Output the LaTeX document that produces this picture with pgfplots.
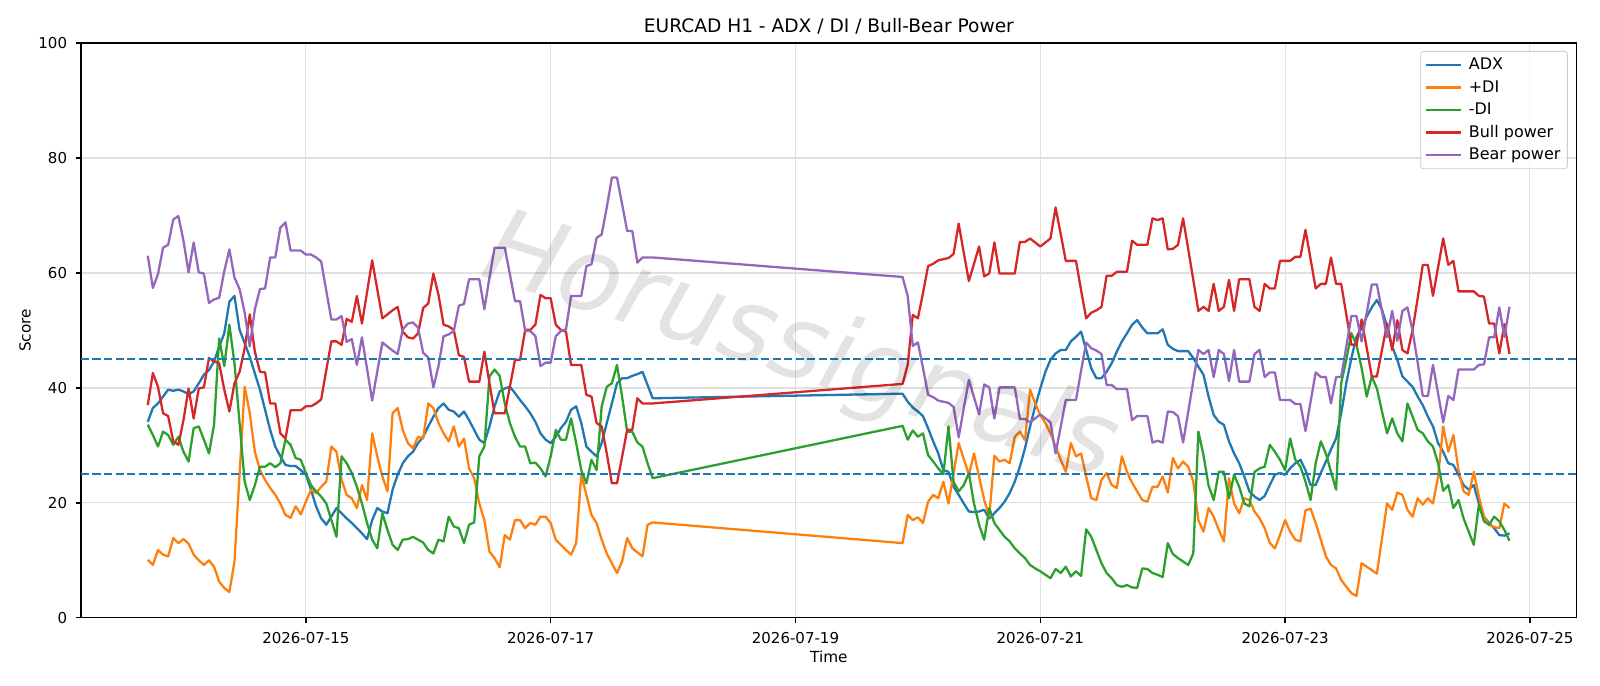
\documentclass[border=0pt]{standalone}
\usepackage{fontspec}
\setmainfont{DejaVu Sans}
\usepackage{pgfplots}
\pgfplotsset{compat=1.18}
\definecolor{tabblue}{HTML}{1F77B4}
\definecolor{taborange}{HTML}{FF7F0E}
\definecolor{tabgreen}{HTML}{2CA02C}
\definecolor{tabred}{HTML}{D62728}
\definecolor{tabpurple}{HTML}{9467BD}
\begin{document}
\begin{tikzpicture}
\useasboundingbox (-58.3pt,-49pt) rectangle (1093.8pt,444.9pt);
\begin{axis}[
  at={(0pt,0pt)}, anchor=south west,
  width=1077.1pt, height=413.9pt, scale only axis,
  xmin=3.9, xmax=297.2, ymin=0, ymax=100,
  xtick={48,96,144,192,240,288},
  xticklabels={2026-07-15,2026-07-17,2026-07-19,2026-07-21,2026-07-23,2026-07-25},
  ytick={0,20,40,60,80,100},
  xtick pos=bottom, ytick pos=left,
  tick align=outside, major tick length=3.8pt,
  tick style={black, line width=0.9pt},
  axis line style={black, line width=0.9pt},
  grid=major, major grid style={black!12, line width=0.85pt},
  /pgf/number format/assume math mode=true,
  ticklabel style={font=\fontsize{10.8}{13}\selectfont},
  xticklabel style={inner sep=0pt, anchor=north, yshift=-6.4pt},
  yticklabel style={inner sep=0pt, anchor=east, xshift=-6pt},
  title={EURCAD H1 - ADX / DI / Bull-Bear Power},
  title style={font=\fontsize{13.4}{16}\selectfont, at={(axis description cs:0.5,1)}, anchor=base, yshift=1.4pt},
  xlabel={Time}, ylabel={Score},
  xlabel style={font=\fontsize{11}{13}\selectfont, at={(axis description cs:0.5,0)}, anchor=base, yshift=-32.5pt},
  ylabel style={font=\fontsize{11}{13}\selectfont, at={(axis description cs:-0.0337,0.5)}, anchor=base},
  legend style={at={(1,1)}, anchor=north east, xshift=-6.5pt, yshift=-5.7pt, draw=black!20, line width=0.6pt, rounded corners=2pt, fill=white, fill opacity=0.8, text opacity=1, font=\fontsize{11.5}{13.5}\selectfont, inner xsep=3pt, inner ysep=3pt, row sep=2.2pt, column sep=3pt},
  legend cell align=left,
  legend image code/.code={\draw[#1, line width=1.65pt] (0pt,0pt) -- (25pt,0pt);},
  every axis plot/.append style={line width=1.65pt, line join=round},
]
\addplot[tabblue] table[row sep=\\] {x y\\
17 34.1\\ 18 36.5\\ 19 37.3\\ 20 38.5\\ 21 39.7\\ 22 39.5\\ 23 39.7\\ 24 39.4\\ 25 38.9\\ 26 39.4\\
27 40.8\\ 28 42.3\\ 29 43.1\\ 30 44.6\\ 31 47.2\\ 32 49.5\\ 33 55.0\\ 34 56.0\\ 35 50.1\\ 36 47.8\\
37 45.4\\ 38 42.5\\ 39 39.7\\ 40 36.2\\ 41 32.7\\ 42 29.8\\ 43 28.1\\ 44 26.6\\ 45 26.4\\ 46 26.4\\
47 25.7\\ 48 24.9\\ 49 22.3\\ 50 19.4\\ 51 17.3\\ 52 16.2\\ 53 17.6\\ 54 19.1\\ 55 18.2\\ 56 17.3\\
57 16.5\\ 58 15.6\\ 59 14.7\\ 60 13.7\\ 61 17.0\\ 62 19.1\\ 63 18.5\\ 64 18.2\\ 65 22.3\\ 66 24.9\\
67 26.9\\ 68 28.1\\ 69 28.9\\ 70 30.4\\ 71 31.5\\ 72 33.3\\ 73 35.0\\ 74 36.5\\ 75 37.3\\ 76 36.2\\
77 35.9\\ 78 35.0\\ 79 35.9\\ 80 34.4\\ 81 32.7\\ 82 31.0\\ 83 30.4\\ 84 33.3\\ 85 36.8\\ 86 39.4\\
87 39.9\\ 88 40.2\\ 89 39.1\\ 90 37.9\\ 91 36.8\\ 92 35.6\\ 93 34.1\\ 94 32.1\\ 95 31.0\\ 96 30.4\\
97 31.5\\ 98 33.0\\ 99 34.1\\ 100 36.2\\ 101 36.8\\ 102 33.9\\ 103 29.8\\ 104 28.9\\ 105 28.1\\ 106 30.4\\
107 33.9\\ 108 37.3\\ 109 40.8\\ 110 41.7\\ 111 41.7\\ 112 42.1\\ 113 42.4\\ 114 42.8\\ 115 40.5\\ 116 38.2\\
165 39.0\\ 166 37.6\\ 167 36.6\\ 168 35.9\\ 169 35.1\\ 170 33.0\\ 171 30.7\\ 172 28.6\\ 173 25.7\\ 174 25.4\\
175 22.8\\ 176 21.4\\ 177 19.9\\ 178 18.5\\ 179 18.4\\ 180 18.5\\ 181 18.8\\ 182 17.3\\ 183 18.2\\ 184 19.1\\
185 20.2\\ 186 21.7\\ 187 23.7\\ 188 26.3\\ 189 29.5\\ 190 33.3\\ 191 36.8\\ 192 39.9\\ 193 42.8\\ 194 44.9\\
195 46.0\\ 196 46.6\\ 197 46.6\\ 198 48.1\\ 199 48.9\\ 200 49.8\\ 201 46.6\\ 202 43.4\\ 203 41.7\\ 204 41.7\\
205 42.8\\ 206 44.3\\ 207 46.3\\ 208 48.1\\ 209 49.5\\ 210 51.0\\ 211 51.8\\ 212 50.5\\ 213 49.5\\ 214 49.5\\
215 49.5\\ 216 50.2\\ 217 47.5\\ 218 46.8\\ 219 46.4\\ 220 46.4\\ 221 46.4\\ 222 45.2\\ 223 43.7\\ 224 42.3\\
225 38.5\\ 226 35.3\\ 227 34.1\\ 228 33.6\\ 229 30.7\\ 230 28.6\\ 231 26.9\\ 232 24.6\\ 233 22.0\\ 234 21.1\\
235 20.5\\ 236 21.2\\ 237 23.1\\ 238 24.9\\ 239 25.2\\ 240 24.9\\ 241 26.0\\ 242 26.9\\ 243 27.5\\ 244 25.7\\
245 23.1\\ 246 23.1\\ 247 25.2\\ 248 27.2\\ 249 29.3\\ 250 31.2\\ 251 35.6\\ 252 40.8\\ 253 45.2\\ 254 48.9\\
255 50.4\\ 256 52.4\\ 257 54.0\\ 258 55.3\\ 259 53.6\\ 260 50.7\\ 261 47.2\\ 262 44.9\\ 263 42.0\\ 264 41.1\\
265 40.2\\ 266 38.5\\ 267 37.0\\ 268 35.0\\ 269 33.3\\ 270 30.4\\ 271 28.9\\ 272 26.9\\ 273 26.6\\ 274 24.9\\
275 23.1\\ 276 22.3\\ 277 23.1\\ 278 19.9\\ 279 17.6\\ 280 16.5\\ 281 15.6\\ 282 14.4\\ 283 14.3\\ 284 14.7\\
};
\addlegendentry{ADX}
\addplot[taborange] table[row sep=\\] {x y\\
17 10.1\\ 18 9.2\\ 19 11.8\\ 20 11.0\\ 21 10.7\\ 22 13.9\\ 23 13.0\\ 24 13.7\\ 25 12.9\\ 26 11.0\\
27 10.0\\ 28 9.2\\ 29 10.0\\ 30 8.9\\ 31 6.3\\ 32 5.2\\ 33 4.5\\ 34 9.8\\ 36 40.2\\ 37 35.6\\
38 28.9\\ 39 25.7\\ 40 24.0\\ 41 22.6\\ 42 21.4\\ 43 19.9\\ 44 17.9\\ 45 17.4\\ 46 19.4\\ 47 18.0\\
48 20.2\\ 49 22.3\\ 50 21.7\\ 51 22.8\\ 52 23.7\\ 53 29.8\\ 54 28.9\\ 55 24.0\\ 56 21.4\\ 57 20.8\\
58 19.1\\ 59 23.1\\ 60 20.5\\ 61 32.1\\ 62 28.1\\ 63 24.6\\ 64 22.0\\ 65 35.6\\ 66 36.5\\ 67 32.7\\
68 30.4\\ 69 29.5\\ 70 31.5\\ 71 31.2\\ 72 37.3\\ 73 36.5\\ 74 33.9\\ 75 32.1\\ 76 30.7\\ 77 33.3\\
78 29.8\\ 79 31.2\\ 80 26.0\\ 81 24.3\\ 82 19.9\\ 83 17.0\\ 84 11.5\\ 85 10.4\\ 86 8.8\\ 87 14.4\\
88 13.6\\ 89 17.0\\ 90 17.0\\ 91 15.6\\ 92 16.5\\ 93 16.2\\ 94 17.6\\ 95 17.6\\ 96 16.5\\ 97 13.6\\
98 12.7\\ 99 11.8\\ 100 11.0\\ 101 13.0\\ 102 24.9\\ 103 21.4\\ 104 17.9\\ 105 16.5\\ 106 13.6\\ 107 11.2\\
108 9.5\\ 109 7.8\\ 110 9.8\\ 111 13.9\\ 112 12.1\\ 113 11.4\\ 114 10.7\\ 115 16.2\\ 116 16.6\\
165 13.0\\ 166 17.9\\ 167 17.0\\ 168 17.5\\ 169 16.5\\ 170 20.2\\ 171 21.4\\ 172 20.8\\ 173 23.7\\ 174 19.9\\
176 30.4\\ 178 24.9\\ 179 28.6\\ 181 20.5\\ 182 17.6\\ 183 28.2\\ 184 27.2\\ 185 27.5\\ 186 26.9\\ 187 31.5\\
188 32.4\\ 189 30.9\\ 190 39.7\\ 191 37.3\\ 192 35.3\\ 193 33.9\\ 194 32.1\\ 195 29.8\\ 196 27.5\\ 197 25.4\\
198 30.4\\ 199 28.1\\ 200 28.6\\ 201 24.6\\ 202 20.8\\ 203 20.5\\ 204 24.0\\ 205 25.2\\ 206 23.1\\ 207 22.6\\
208 28.1\\ 209 25.4\\ 210 23.5\\ 211 22.0\\ 212 20.5\\ 213 20.2\\ 214 22.8\\ 215 22.8\\ 216 24.6\\ 217 21.8\\
218 27.8\\ 219 26.0\\ 220 27.2\\ 221 26.3\\ 222 23.7\\ 223 17.0\\ 224 15.0\\ 225 19.1\\ 226 17.6\\ 227 15.3\\
228 13.3\\ 229 24.3\\ 230 19.9\\ 231 18.2\\ 232 20.8\\ 233 20.5\\ 234 18.5\\ 235 17.3\\ 236 15.6\\ 237 13.0\\
238 12.1\\ 239 14.4\\ 240 17.0\\ 241 15.0\\ 242 13.6\\ 243 13.3\\ 244 18.7\\ 245 19.0\\ 246 16.5\\ 247 13.6\\
248 10.7\\ 249 9.2\\ 250 8.6\\ 251 6.6\\ 252 5.4\\ 253 4.3\\ 254 3.8\\ 255 9.5\\ 256 8.9\\ 257 8.3\\
258 7.7\\ 260 19.9\\ 261 18.8\\ 262 21.8\\ 263 21.4\\ 264 18.8\\ 265 17.6\\ 266 20.8\\ 267 19.7\\ 268 20.8\\
269 19.9\\ 270 24.6\\ 271 33.3\\ 272 28.9\\ 273 31.8\\ 274 25.7\\ 275 22.0\\ 276 21.4\\ 277 25.4\\ 278 21.1\\
279 17.6\\ 280 16.2\\ 281 15.8\\ 282 15.6\\ 283 19.9\\ 284 19.1\\
};
\addlegendentry{+DI}
\addplot[tabgreen] table[row sep=\\] {x y\\
17 33.6\\ 18 31.8\\ 19 29.8\\ 20 32.4\\ 21 31.8\\ 22 30.1\\ 23 31.5\\ 24 28.9\\ 25 27.2\\ 26 33.0\\
27 33.3\\ 28 31.0\\ 29 28.6\\ 30 33.6\\ 31 48.6\\ 32 43.8\\ 33 51.0\\ 34 44.3\\ 35 33.9\\ 36 23.7\\
37 20.5\\ 38 23.1\\ 39 26.3\\ 40 26.3\\ 41 26.9\\ 42 26.2\\ 43 26.9\\ 44 31.0\\ 45 30.1\\ 46 27.8\\
47 27.5\\ 48 25.2\\ 49 23.1\\ 50 22.0\\ 51 21.1\\ 52 19.9\\ 53 17.0\\ 54 14.1\\ 55 28.1\\ 56 26.9\\
57 25.2\\ 58 22.8\\ 59 19.9\\ 60 16.5\\ 61 13.6\\ 62 12.1\\ 63 18.2\\ 64 15.3\\ 65 12.7\\ 66 11.8\\
67 13.6\\ 68 13.7\\ 69 14.1\\ 70 13.6\\ 71 13.1\\ 72 11.8\\ 73 11.2\\ 74 13.6\\ 75 13.3\\ 76 17.6\\
77 15.9\\ 78 15.6\\ 79 13.0\\ 80 16.2\\ 81 16.6\\ 82 28.1\\ 83 29.8\\ 84 42.0\\ 85 43.2\\ 86 42.1\\
87 37.3\\ 88 33.9\\ 89 31.5\\ 90 29.8\\ 91 29.8\\ 92 26.9\\ 93 27.0\\ 94 26.0\\ 95 24.6\\ 96 28.1\\
97 32.7\\ 98 31.0\\ 99 31.0\\ 100 34.7\\ 101 30.4\\ 102 25.7\\ 103 23.4\\ 104 27.5\\ 105 25.7\\ 106 36.8\\
107 40.2\\ 108 40.8\\ 109 44.0\\ 110 38.5\\ 111 32.4\\ 112 32.4\\ 113 30.5\\ 114 29.8\\ 115 26.9\\ 116 24.3\\
165 33.4\\ 166 31.0\\ 167 32.6\\ 168 31.5\\ 169 32.1\\ 170 28.3\\ 171 27.2\\ 172 26.0\\ 173 25.0\\ 174 33.3\\
175 23.7\\ 176 22.0\\ 177 23.1\\ 178 25.2\\ 179 19.9\\ 180 16.2\\ 181 13.6\\ 182 19.1\\ 183 16.5\\ 184 15.3\\
185 14.1\\ 186 13.3\\ 187 12.1\\ 188 11.2\\ 189 10.4\\ 190 9.2\\ 191 8.6\\ 192 8.1\\ 193 7.5\\ 194 6.9\\
195 8.5\\ 196 7.8\\ 197 8.9\\ 198 7.2\\ 199 8.1\\ 200 7.3\\ 201 15.4\\ 202 14.1\\ 203 11.8\\ 204 9.5\\
205 7.8\\ 206 6.9\\ 207 5.7\\ 208 5.4\\ 209 5.7\\ 210 5.3\\ 211 5.2\\ 212 8.6\\ 213 8.5\\ 214 7.8\\
215 7.5\\ 216 7.1\\ 217 13.0\\ 218 11.1\\ 219 10.4\\ 220 9.8\\ 221 9.2\\ 222 11.2\\ 223 32.4\\ 224 28.3\\
225 23.0\\ 226 20.5\\ 227 25.4\\ 228 25.4\\ 229 20.8\\ 230 24.9\\ 231 22.8\\ 232 19.9\\ 233 19.4\\ 234 25.4\\
235 26.0\\ 236 26.3\\ 237 30.1\\ 238 28.9\\ 239 27.5\\ 240 25.7\\ 241 31.2\\ 242 27.5\\ 243 26.3\\ 244 23.7\\
245 20.5\\ 246 26.9\\ 247 30.7\\ 248 28.6\\ 249 25.4\\ 250 22.3\\ 251 40.8\\ 252 44.9\\ 253 49.5\\ 254 47.5\\
255 43.5\\ 256 38.5\\ 257 42.0\\ 258 39.9\\ 259 35.9\\ 260 32.1\\ 261 34.7\\ 262 32.1\\ 263 30.7\\ 264 37.3\\
265 35.0\\ 266 32.7\\ 267 32.1\\ 268 30.7\\ 269 29.8\\ 270 26.9\\ 271 22.1\\ 272 23.1\\ 273 19.1\\ 274 20.5\\
275 17.3\\ 276 15.0\\ 277 12.7\\ 278 19.7\\ 279 16.8\\ 280 16.2\\ 281 17.6\\ 282 16.8\\ 283 15.3\\ 284 13.4\\
};
\addlegendentry{-DI}
\addplot[tabred] table[row sep=\\] {x y\\
17 37.0\\ 18 42.6\\ 19 40.2\\ 20 35.6\\ 21 35.1\\ 22 30.7\\ 23 30.1\\ 24 34.4\\ 25 39.9\\ 26 34.7\\
27 39.9\\ 28 40.1\\ 29 45.2\\ 30 44.6\\ 31 44.3\\ 32 39.7\\ 33 35.9\\ 34 40.8\\ 35 42.8\\ 36 46.9\\
37 52.8\\ 38 46.3\\ 39 42.8\\ 40 42.7\\ 41 37.3\\ 42 37.3\\ 43 32.1\\ 44 31.2\\ 45 36.1\\ 46 36.1\\
47 36.1\\ 48 36.8\\ 49 36.8\\ 50 37.3\\ 51 38.0\\ 52 43.1\\ 53 48.1\\ 54 48.1\\ 55 47.5\\ 56 52.0\\
57 51.5\\ 58 56.0\\ 59 51.2\\ 61 62.2\\ 63 52.1\\ 64 52.8\\ 65 53.5\\ 66 54.1\\ 67 49.8\\ 68 48.8\\
69 48.6\\ 70 49.5\\ 71 53.9\\ 72 54.7\\ 73 59.9\\ 74 56.2\\ 75 51.0\\ 76 50.7\\ 77 50.1\\ 78 45.7\\
79 45.4\\ 80 41.1\\ 81 41.1\\ 82 41.1\\ 83 46.3\\ 84 40.8\\ 85 35.6\\ 86 35.6\\ 87 35.6\\ 88 40.2\\
89 44.9\\ 90 44.9\\ 91 50.1\\ 92 50.1\\ 93 51.0\\ 94 56.2\\ 95 55.6\\ 96 55.6\\ 97 51.0\\ 98 50.1\\
99 49.8\\ 100 44.0\\ 101 44.0\\ 102 44.0\\ 103 38.8\\ 104 38.5\\ 105 33.9\\ 106 33.3\\ 107 28.6\\ 108 23.4\\
109 23.4\\ 110 28.0\\ 111 32.7\\ 112 32.7\\ 113 38.2\\ 114 37.3\\ 115 37.3\\ 116 37.3\\
165 40.7\\ 166 44.0\\ 167 52.7\\ 168 52.1\\ 169 56.5\\ 170 61.2\\ 171 61.6\\ 172 62.2\\ 173 62.4\\ 174 62.6\\
175 63.3\\ 176 68.6\\ 177 63.5\\ 178 58.6\\ 179 61.6\\ 180 64.6\\ 181 59.4\\ 182 59.9\\ 183 65.3\\ 184 59.9\\
185 59.9\\ 186 59.9\\ 187 59.9\\ 188 65.4\\ 189 65.4\\ 190 66.0\\ 191 65.3\\ 192 64.6\\ 193 65.3\\ 194 66.0\\
195 71.4\\ 196 66.8\\ 197 62.1\\ 198 62.1\\ 199 62.1\\ 200 57.0\\ 201 52.1\\ 202 53.1\\ 203 53.5\\ 204 54.1\\
205 59.5\\ 206 59.5\\ 207 60.2\\ 208 60.2\\ 209 60.2\\ 210 65.6\\ 211 64.9\\ 212 64.9\\ 213 64.9\\ 214 69.5\\
215 69.2\\ 216 69.5\\ 217 64.1\\ 218 64.2\\ 219 64.9\\ 220 69.5\\ 221 64.2\\ 222 58.8\\ 223 53.4\\ 224 54.1\\
225 53.4\\ 226 58.1\\ 227 53.4\\ 228 54.1\\ 229 58.8\\ 230 53.4\\ 231 58.9\\ 232 58.9\\ 233 58.9\\ 234 54.1\\
235 53.4\\ 236 58.1\\ 237 57.3\\ 238 57.3\\ 239 62.1\\ 240 62.1\\ 241 62.1\\ 242 62.8\\ 243 62.8\\ 244 67.5\\
245 62.4\\ 246 57.3\\ 247 58.1\\ 248 58.1\\ 249 62.7\\ 250 58.1\\ 251 58.1\\ 252 52.8\\ 253 47.5\\ 254 47.5\\
255 51.9\\ 256 47.0\\ 257 42.0\\ 258 42.0\\ 259 46.6\\ 260 51.2\\ 261 46.6\\ 262 51.8\\ 263 46.6\\ 264 46.0\\
265 50.1\\ 266 55.6\\ 267 61.4\\ 268 61.4\\ 269 56.0\\ 270 61.0\\ 271 66.0\\ 272 61.4\\ 273 62.1\\ 274 56.8\\
275 56.8\\ 276 56.8\\ 277 56.8\\ 278 56.0\\ 279 55.9\\ 280 51.2\\ 281 51.2\\ 282 46.0\\ 283 51.1\\ 284 45.9\\
};
\addlegendentry{Bull power}
\addplot[tabpurple] table[row sep=\\] {x y\\
17 63.0\\ 18 57.4\\ 19 59.8\\ 20 64.4\\ 21 64.9\\ 22 69.3\\ 23 69.9\\ 24 65.6\\ 25 60.1\\ 26 65.3\\
27 60.1\\ 28 59.9\\ 29 54.8\\ 30 55.4\\ 31 55.7\\ 32 60.3\\ 33 64.1\\ 34 59.2\\ 35 57.2\\ 36 53.1\\
37 47.2\\ 38 53.7\\ 39 57.2\\ 40 57.3\\ 41 62.7\\ 42 62.7\\ 43 67.9\\ 44 68.8\\ 45 63.9\\ 46 63.9\\
47 63.9\\ 48 63.2\\ 49 63.2\\ 50 62.7\\ 51 62.0\\ 52 56.9\\ 53 51.9\\ 54 51.9\\ 55 52.5\\ 56 48.0\\
57 48.5\\ 58 44.0\\ 59 48.8\\ 61 37.8\\ 63 47.9\\ 64 47.2\\ 65 46.5\\ 66 45.9\\ 67 50.2\\ 68 51.2\\
69 51.4\\ 70 50.5\\ 71 46.1\\ 72 45.3\\ 73 40.1\\ 74 43.8\\ 75 49.0\\ 76 49.3\\ 77 49.9\\ 78 54.3\\
79 54.6\\ 80 58.9\\ 81 58.9\\ 82 58.9\\ 83 53.7\\ 84 59.2\\ 85 64.4\\ 86 64.4\\ 87 64.4\\ 88 59.8\\
89 55.1\\ 90 55.1\\ 91 49.9\\ 92 49.9\\ 93 49.0\\ 94 43.8\\ 95 44.4\\ 96 44.4\\ 97 49.0\\ 98 49.9\\
99 50.2\\ 100 56.0\\ 101 56.0\\ 102 56.0\\ 103 61.2\\ 104 61.5\\ 105 66.1\\ 106 66.7\\ 107 71.4\\ 108 76.6\\
109 76.6\\ 110 72.0\\ 111 67.3\\ 112 67.3\\ 113 61.8\\ 114 62.7\\ 115 62.7\\ 116 62.7\\
165 59.3\\ 166 56.0\\ 167 47.3\\ 168 47.9\\ 169 43.5\\ 170 38.8\\ 171 38.4\\ 172 37.8\\ 173 37.6\\ 174 37.4\\
175 36.7\\ 176 31.4\\ 177 36.5\\ 178 41.4\\ 179 38.4\\ 180 35.4\\ 181 40.6\\ 182 40.1\\ 183 34.7\\ 184 40.1\\
185 40.1\\ 186 40.1\\ 187 40.1\\ 188 34.6\\ 189 34.6\\ 190 34.0\\ 191 34.7\\ 192 35.4\\ 193 34.7\\ 194 34.0\\
195 28.6\\ 196 33.2\\ 197 37.9\\ 198 37.9\\ 199 37.9\\ 200 43.0\\ 201 47.9\\ 202 46.9\\ 203 46.5\\ 204 45.9\\
205 40.5\\ 206 40.5\\ 207 39.8\\ 208 39.8\\ 209 39.8\\ 210 34.4\\ 211 35.1\\ 212 35.1\\ 213 35.1\\ 214 30.5\\
215 30.8\\ 216 30.5\\ 217 35.9\\ 218 35.8\\ 219 35.1\\ 220 30.5\\ 221 35.8\\ 222 41.2\\ 223 46.6\\ 224 45.9\\
225 46.6\\ 226 41.9\\ 227 46.6\\ 228 45.9\\ 229 41.2\\ 230 46.6\\ 231 41.1\\ 232 41.1\\ 233 41.1\\ 234 45.9\\
235 46.6\\ 236 41.9\\ 237 42.7\\ 238 42.7\\ 239 37.9\\ 240 37.9\\ 241 37.9\\ 242 37.2\\ 243 37.2\\ 244 32.5\\
245 37.6\\ 246 42.7\\ 247 41.9\\ 248 41.9\\ 249 37.3\\ 250 41.9\\ 251 41.9\\ 252 47.2\\ 253 52.5\\ 254 52.5\\
255 48.1\\ 256 53.0\\ 257 58.0\\ 258 58.0\\ 259 53.4\\ 260 48.8\\ 261 53.4\\ 262 48.2\\ 263 53.4\\ 264 54.0\\
265 49.9\\ 266 44.4\\ 267 38.6\\ 268 38.6\\ 269 44.0\\ 270 39.0\\ 271 34.0\\ 272 38.6\\ 273 37.9\\ 274 43.2\\
275 43.2\\ 276 43.2\\ 277 43.2\\ 278 44.0\\ 279 44.1\\ 280 48.8\\ 281 48.8\\ 282 54.0\\ 283 48.9\\ 284 54.1\\
};
\addlegendentry{Bear power}
\addplot[tabblue, line width=1.3pt, dash pattern=on 5.8pt off 2.5pt, forget plot] coordinates {(3.9,45) (297.2,45)};
\addplot[tabblue, line width=1.3pt, dash pattern=on 5.8pt off 2.5pt, forget plot] coordinates {(3.9,25) (297.2,25)};
\node[rotate=-18, font=\fontsize{74}{74}\selectfont\itshape, text=black, opacity=0.11] at (axis cs:144.9,46.6) {Horussignals};
\end{axis}
\end{tikzpicture}
\end{document}
